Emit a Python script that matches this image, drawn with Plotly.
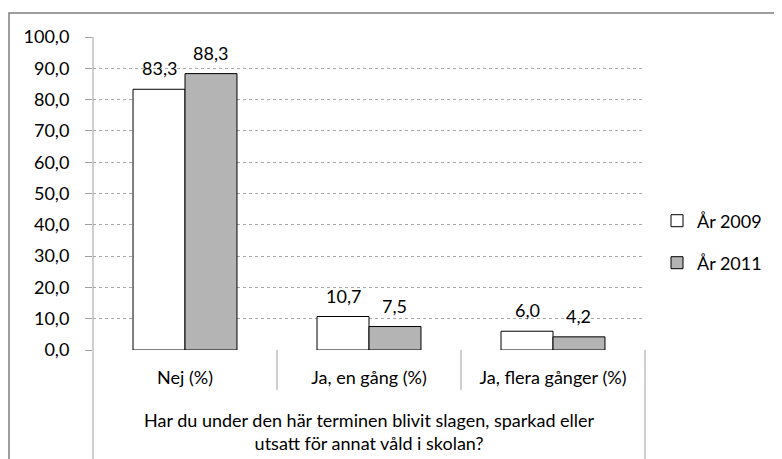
import plotly.graph_objects as go

categories = ["Nej (%)", "Ja, en gång (%)", "Ja, flera gånger (%)"]
series_names = ["År 2009", "År 2011"]
values_2009 = [83.3, 10.7, 6.0]
values_2011 = [88.3, 7.5, 4.2]
y_ticks = [0, 10, 20, 30, 40, 50, 60, 70, 80, 90, 100]
axis_title = "Har du under den här terminen blivit slagen, sparkad eller<br>utsatt för annat våld i skolan?"

# page body has an 8px margin: figure occupies screen 8..782 x 8..459
OFF = 8
W, H = 782 - OFF, 459 - OFF
# plot area in screen pixels
L, R, T, B = 93, 645, 37, 350
FONT = "Lato, Open Sans, sans-serif"
FS = 18


def px_x(x):
    return (x - L) / (R - L)


def px_y(y):
    return (B - y) / (B - T)


fig = go.Figure()
fig.add_trace(go.Bar(
    x=categories, y=values_2009, name=series_names[0],
    marker=dict(color="#ffffff", line=dict(color="#000000", width=1)),
    legend="legend",
))
fig.add_trace(go.Bar(
    x=categories, y=values_2011, name=series_names[1],
    marker=dict(color="#b4b4b4", line=dict(color="#000000", width=1)),
    legend="legend2",
))

annotations = []
bar_px = (R - L) / len(categories) * (1 - 0.435) / 2
for vals, sgn in ((values_2009, -1), (values_2011, 1)):
    for c, v in zip(categories, vals):
        annotations.append(dict(
            x=c, y=v, xref="x", yref="y", text=f"{v:.1f}".replace(".", ","),
            showarrow=False, xshift=sgn * bar_px / 2, yshift=8, yanchor="bottom",
            font=dict(family=FONT, size=FS, color="#000000"),
        ))
annotations.append(dict(
    x=0.5, y=px_y(431), xref="paper", yref="paper", text=axis_title,
    showarrow=False, xanchor="center", yanchor="middle",
    font=dict(family=FONT, size=FS, color="#000000"),
))

line_grey = dict(color="#a0a0a0", width=1)
shapes = [
    dict(type="rect", xref="paper", yref="paper", x0=px_x(9), x1=px_x(800),
         y0=px_y(13), y1=px_y(480), line=dict(color="#7f7f7f", width=1.5),
         fillcolor="rgba(0,0,0,0)", layer="below"),
    dict(type="line", xref="paper", yref="paper", x0=0, x1=0, y0=1, y1=px_y(470), line=line_grey),
    dict(type="line", xref="paper", yref="paper", x0=1, x1=1, y0=0, y1=px_y(470), line=line_grey),
]
for i in range(1, len(categories)):
    shapes.append(dict(type="line", xref="x", yref="paper", x0=i - 0.5, x1=i - 0.5,
                       y0=0, y1=px_y(390), line=line_grey))

fig.update_layout(
    width=W, height=H, autosize=False,
    margin=dict(l=L - OFF, r=782 - R, t=T - OFF, b=459 - B, pad=0),
    paper_bgcolor="#ffffff", plot_bgcolor="#ffffff",
    separators=", ",
    barmode="group", bargap=0.435, bargroupgap=0,
    font=dict(family=FONT, size=FS, color="#000000"),
    showlegend=True,
    legend=dict(x=px_x(657), y=px_y(221), xanchor="left", yanchor="middle",
                font=dict(family=FONT, size=FS), bgcolor="rgba(0,0,0,0)"),
    legend2=dict(x=px_x(657), y=px_y(263), xanchor="left", yanchor="middle",
                 font=dict(family=FONT, size=FS), bgcolor="rgba(0,0,0,0)"),
    xaxis=dict(showgrid=False, showline=False, zeroline=False, ticks="",
               ticklabelstandoff=15, tickfont=dict(family=FONT, size=FS)),
    yaxis=dict(range=[0, 100], tickvals=y_ticks, tickformat=".1f",
               showgrid=True, gridcolor="#a8a8a8", griddash="dot", gridwidth=1,
               zeroline=False, showline=False, ticks="outside", ticklen=7,
               tickcolor="#a0a0a0", ticklabelstandoff=12,
               tickfont=dict(family=FONT, size=FS)),
    annotations=annotations,
    shapes=shapes,
)

fig.write_html("out.html")
